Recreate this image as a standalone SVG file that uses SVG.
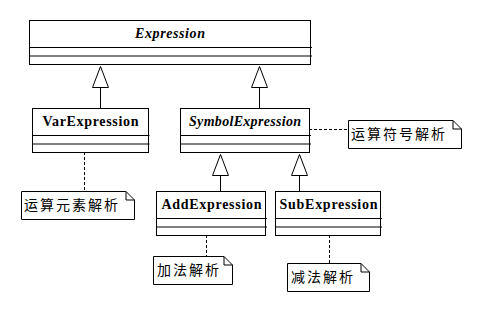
<svg xmlns="http://www.w3.org/2000/svg" width="483" height="313" viewBox="0 0 483 313">
<style>
.box{fill:#fff;stroke:#000;stroke-width:1}
.div{stroke:#000;stroke-width:1;fill:none}
.cls{font-family:"Liberation Serif","DejaVu Serif",serif;font-weight:bold;font-size:14px;fill:#000;text-anchor:middle}
.abs{font-style:italic}
.note{fill:#fff;stroke:#000;stroke-width:1}
.ntxt{font-family:"Noto Sans CJK SC","Noto Sans CJK JP",sans-serif;font-size:14px;letter-spacing:2px;fill:#000}
.gen{fill:#fff;stroke:#000;stroke-width:1}
.ln{stroke:#000;stroke-width:1;fill:none}
.dash{stroke:#000;stroke-width:1;fill:none;stroke-dasharray:3,2}
</style>
<rect width="483" height="313" fill="#fff"/>
<g id="connectors">
  <path class="ln" d="M100.5,87 V108 M259.5,87 V108 M220.5,175 V191 M299.5,175 V191"/>
  <path class="gen" d="M100.5,66.5 L92.5,87.5 L108.5,87.5 Z"/>
  <path class="gen" d="M259.5,66.5 L251.5,87.5 L267.5,87.5 Z"/>
  <path class="gen" d="M220.5,154.5 L212.5,175.5 L228.5,175.5 Z"/>
  <path class="gen" d="M299.5,154.5 L291.5,175.5 L307.5,175.5 Z"/>
  <path class="dash" d="M84.5,152 V191"/>
  <path class="dash" d="M309,129.5 H348"/>
  <path class="dash" d="M206.5,235 V256"/>
  <path class="dash" d="M329.5,235 V263"/>
</g>
<g id="Expression">
  <rect class="box" x="29.5" y="20.5" width="281" height="44"/>
  <path class="div" d="M29.5,47.5 H312 M29.5,56 H312"/>
  <text class="cls abs" x="170" y="38" textLength="70" lengthAdjust="spacing">Expression</text>
</g>
<g id="VarExpression">
  <rect class="box" x="32.5" y="108.5" width="116" height="44"/>
  <path class="div" d="M32.5,135.5 H149.5 M32.5,144 H149.5"/>
  <text class="cls" x="90.5" y="126" textLength="96" lengthAdjust="spacing">VarExpression</text>
</g>
<g id="SymbolExpression">
  <rect class="box" x="180.5" y="108.5" width="129" height="44"/>
  <path class="div" d="M180.5,135.5 H311 M180.5,144 H311"/>
  <text class="cls abs" x="245" y="126" textLength="112" lengthAdjust="spacing">SymbolExpression</text>
</g>
<g id="AddExpression">
  <rect class="box" x="156.5" y="191.5" width="109" height="44"/>
  <path class="div" d="M156.5,218.5 H267 M156.5,227 H267"/>
  <text class="cls" x="211.5" y="209" textLength="100" lengthAdjust="spacing">AddExpression</text>
</g>
<g id="SubExpression">
  <rect class="box" x="275.5" y="191.5" width="105" height="44"/>
  <path class="div" d="M275.5,218.5 H382 M275.5,227 H382"/>
  <text class="cls" x="328.5" y="209" textLength="98" lengthAdjust="spacing">SubExpression</text>
</g>
<g id="note-var">
  <path class="note" d="M21.5,191.5 H126 L134.5,200 V219.5 H21.5 Z"/>
  <path class="ln" d="M126,191.5 V200 H134.5"/>
  <text class="ntxt" x="24" y="210">运算元素解析</text>
</g>
<g id="note-symbol">
  <path class="note" d="M348.5,120.5 H453 L461.5,129 V148.5 H348.5 Z"/>
  <path class="ln" d="M453,120.5 V129 H461.5"/>
  <text class="ntxt" x="351" y="139">运算符号解析</text>
</g>
<g id="note-add">
  <path class="note" d="M153.5,256.5 H224 L232.5,265 V284.5 H153.5 Z"/>
  <path class="ln" d="M224,256.5 V265 H232.5"/>
  <text class="ntxt" x="157" y="275">加法解析</text>
</g>
<g id="note-sub">
  <path class="note" d="M287.5,263.5 H361 L369.5,272 V291.5 H287.5 Z"/>
  <path class="ln" d="M361,263.5 V272 H369.5"/>
  <text class="ntxt" x="291" y="282">减法解析</text>
</g>
</svg>
